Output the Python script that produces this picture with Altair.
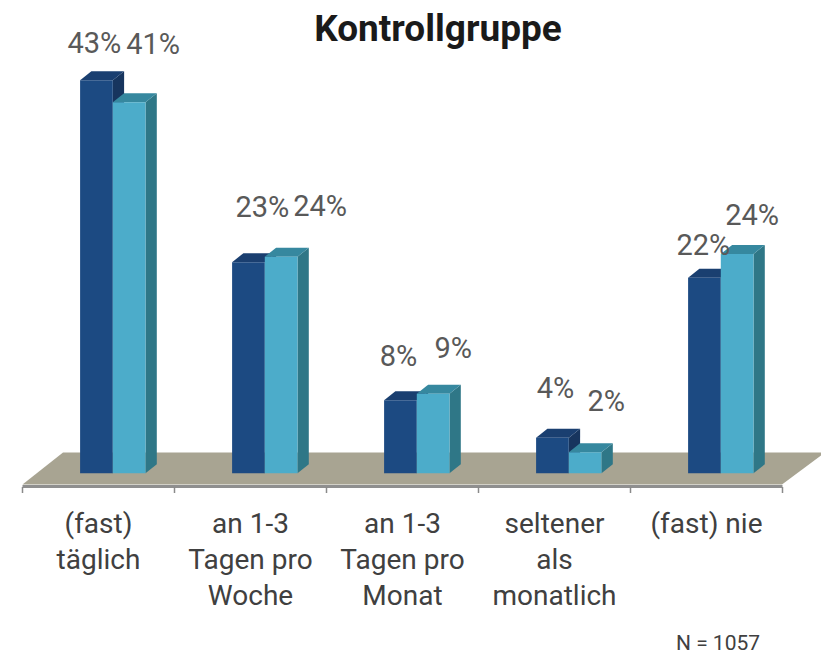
import altair as alt
import pandas as pd

TITLE = "Kontrollgruppe"
NOTE = "N = 1057"
CATEGORIES = [["(fast)", "täglich"], ["an 1-3", "Tagen pro", "Woche"], ["an 1-3", "Tagen pro", "Monat"],
              ["seltener", "als", "monatlich"], ["(fast) nie"]]
SERIES_A = [43.0, 23.1, 8.0, 3.9, 21.4]
SERIES_B = [40.6, 23.7, 8.7, 2.3, 24.0]
LABELS_A = ["43%", "23%", "8%", "4%", "22%"]
LABELS_B = ["41%", "24%", "9%", "2%", "24%"]

W, H = 813, 650
PX_PER_UNIT_X, PX_PER_UNIT_Y = 152.0, 9.14
X0, Y0 = 22.5, 473.3
FONT = "Roboto"
def tx(px): return (px - X0) / PX_PER_UNIT_X
def ty(py): return (Y0 - py) / PX_PER_UNIT_Y

xs = alt.Scale(domain=[tx(8), tx(8 + W)], nice=False, zero=False)
ys = alt.Scale(domain=[ty(8 + H), ty(8)], nice=False, zero=False)
X = lambda f: alt.X(f, type="quantitative", scale=xs, axis=None)
Y = lambda f: alt.Y(f, type="quantitative", scale=ys, axis=None)

BAR_OFF, BAR_W, DX, DY = 57.6 / 152, 32.7 / 152, 11.3 / 152, 9 / 9.14

def faces(values, shift):
    fronts, sides, tops = [], [], []
    for g, v in enumerate(values):
        l = g + BAR_OFF + shift * BAR_W
        r = l + BAR_W
        fronts.append(dict(x=l, x2=r, y=0, y2=v))
        sides += [dict(id=g, x=r, y=0, y2=v), dict(id=g, x=r + DX, y=DY, y2=v + DY)]
        tops += [dict(id=g, x=l, y=v, y2=v), dict(id=g, x=l + DX, y=v, y2=v + DY),
                 dict(id=g, x=r, y=v, y2=v + DY), dict(id=g, x=r + DX, y=v + DY, y2=v + DY)]
    return pd.DataFrame(fronts), pd.DataFrame(sides), pd.DataFrame(tops)

def bar_layers(values, shift, front, side, top):
    f, s, t = faces(values, shift)
    return [
        alt.Chart(s).mark_area(color=side, interpolate="linear").encode(X("x"), Y("y"), y2="y2", detail="id:N"),
        alt.Chart(t).mark_area(color=top, interpolate="linear").encode(X("x"), Y("y"), y2="y2", detail="id:N"),
        alt.Chart(f).mark_rect(color=front).encode(X("x"), x2="x2", y=Y("y"), y2="y2"),
    ]

# floor
fy, by = ty(484.5), ty(452.5)
floor_df = pd.DataFrame([
    dict(x=tx(22.5), y=fy, y2=fy), dict(x=tx(63), y=fy, y2=by),
    dict(x=tx(782), y=fy, y2=by), dict(x=tx(825), y=by, y2=by)])
floor = alt.Chart(floor_df).mark_area(color="#a8a492", interpolate="linear").encode(X("x"), Y("y"), y2="y2")

base_line = alt.Chart(pd.DataFrame([dict(x=0, x2=5, y=ty(486.5))])).mark_rule(color="#8f8f8f", strokeWidth=3).encode(X("x"), x2="x2", y=Y("y"))
ticks = alt.Chart(pd.DataFrame(dict(x=list(range(6)), y=ty(487), y2=ty(493)))).mark_rule(color="#8a8a8a", strokeWidth=1.5).encode(X("x"), y=Y("y"), y2="y2")

# value labels: nudged from each bar's top, in pixels
NUDGE_A = [(-2, -36), (14, -54), (-2, -43), (3, -49), (-1, -32)]
NUDGE_B = [(24, -57), (39, -50), (20, -45), (21, -50), (15, -38)]
rows = []
for shift, vals, labs, nudges in [(0, SERIES_A, LABELS_A, NUDGE_A), (1, SERIES_B, LABELS_B, NUDGE_B)]:
    for g, (v, lab, (nx, ny)) in enumerate(zip(vals, labs, nudges)):
        rows.append(dict(x=g + BAR_OFF + (shift + .5) * BAR_W + nx / 152, y=v - ny / 9.14, t=lab))
val_text = alt.Chart(pd.DataFrame(rows)).mark_text(font=FONT, fontSize=29, color="#595959", baseline="middle", align="center").encode(X("x"), Y("y"), text="t:N")

# category labels
cat_df = pd.DataFrame([dict(x=g + 0.5, y=ty(511), t=c) for g, c in enumerate(CATEGORIES)])
cat_text = alt.Chart(cat_df).mark_text(font=FONT, fontSize=28, color="#404040", baseline="top", align="center", lineHeight=36).encode(X("x"), Y("y"), text="t")

title_text = alt.Chart(pd.DataFrame([dict(x=tx(438), y=ty(30), t=TITLE)])).mark_text(font=FONT, fontWeight="bold", fontSize=37, color="#1a1a1a", baseline="middle", align="center").encode(X("x"), Y("y"), text="t:N")
note_text = alt.Chart(pd.DataFrame([dict(x=tx(718), y=ty(644), t=NOTE)])).mark_text(font=FONT, fontSize=21, color="#404040", baseline="middle", align="center").encode(X("x"), Y("y"), text="t:N")

layers = [floor, base_line, ticks]
layers += bar_layers(SERIES_A, 0, "#1c4a82", "#17355e", "#1a3f70")
layers += bar_layers(SERIES_B, 1, "#4cacca", "#2f7787", "#36889f")
layers += [val_text, cat_text, title_text, note_text]

chart = alt.layer(*layers).properties(width=W, height=H, padding=0, autosize=alt.AutoSizeParams(type="none")).configure_view(stroke=None)
chart.save("out.html", embed_options={"renderer": "svg", "actions": False})
